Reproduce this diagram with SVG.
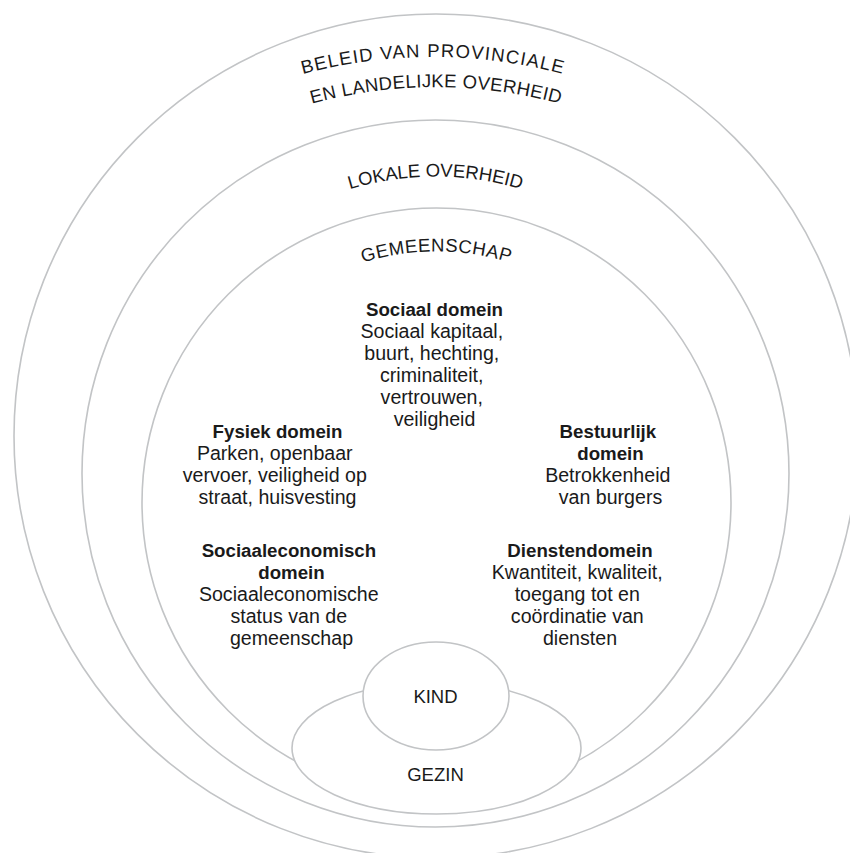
<svg xmlns="http://www.w3.org/2000/svg" width="850" height="853" viewBox="0 0 850 853">
  <style>
    .ring { fill: #ffffff; stroke: #c2c4c6; stroke-width: 1.6; }
    .arc-label { font-family: "Liberation Sans", Arial, sans-serif; font-size: 18.5px; fill: #1a1a1a; }
    .title { font-family: "Liberation Sans", Arial, sans-serif; font-size: 18.7px; font-weight: bold; fill: #1a1a1a; text-anchor: middle; }
    .body { font-family: "Liberation Sans", Arial, sans-serif; font-size: 19.6px; fill: #1a1a1a; text-anchor: middle; }
    .centre { font-family: "Liberation Sans", Arial, sans-serif; font-size: 18.5px; fill: #1a1a1a; text-anchor: middle; }
  </style>
  <defs>
    <path id="arcBeleid1" d="M -70 560 A 503 503 0 0 1 936 560" fill="none"/>
    <path id="arcBeleid2" d="M -37 560 A 473 473 0 0 1 909 560" fill="none"/>
    <path id="arcLokaal" d="M 138.5 473.5 A 297 297 0 0 1 732.5 473.5" fill="none"/>
    <path id="arcGemeenschap" d="M 185.5 502.5 A 251 251 0 0 1 687.5 502.5" fill="none"/>
  </defs>
  <rect width="850" height="853" fill="#ffffff"/>

  <g id="beleid">
    <circle class="ring" cx="436" cy="436" r="422"/>
    <text class="arc-label"><textPath href="#arcBeleid1" startOffset="50%" text-anchor="middle" letter-spacing="1.2">BELEID VAN PROVINCIALE</textPath><textPath href="#arcBeleid2" startOffset="50%" text-anchor="middle" letter-spacing="0.35">EN LANDELIJKE OVERHEID</textPath></text>
  </g>

  <g id="lokale-overheid">
    <circle class="ring" cx="435.5" cy="473.5" r="353.5"/>
    <text class="arc-label"><textPath href="#arcLokaal" startOffset="50%" text-anchor="middle">LOKALE OVERHEID</textPath></text>
  </g>

  <g id="gemeenschap">
    <circle class="ring" cx="436.5" cy="502.5" r="294.5"/>
    <text class="arc-label" letter-spacing="0.5"><textPath href="#arcGemeenschap" startOffset="50%" text-anchor="middle">GEMEENSCHAP</textPath></text>
  </g>

  <g id="sociaal-domein">
    <text class="title" x="434.5" y="316">Sociaal domein</text>
    <text class="body">
      <tspan x="434.5" y="338">Sociaal kapitaal,</tspan>
      <tspan x="434.5" y="360">buurt, hechting,</tspan>
      <tspan x="434.5" y="382">criminaliteit,</tspan>
      <tspan x="434.5" y="404">vertrouwen,</tspan>
      <tspan x="434.5" y="426">veiligheid</tspan>
    </text>
  </g>

  <g id="fysiek-domein">
    <text class="title" x="277.5" y="438">Fysiek domein</text>
    <text class="body">
      <tspan x="277.5" y="460">Parken, openbaar</tspan>
      <tspan x="277.5" y="482">vervoer, veiligheid op</tspan>
      <tspan x="277.5" y="504">straat, huisvesting</tspan>
    </text>
  </g>

  <g id="bestuurlijk-domein">
    <text class="title">
      <tspan x="610.5" y="438">Bestuurlijk</tspan>
      <tspan x="610.5" y="460">domein</tspan>
    </text>
    <text class="body">
      <tspan x="610.5" y="482">Betrokkenheid</tspan>
      <tspan x="610.5" y="504">van burgers</tspan>
    </text>
  </g>

  <g id="sociaaleconomisch-domein">
    <text class="title">
      <tspan x="291.5" y="557">Sociaaleconomisch</tspan>
      <tspan x="291.5" y="579">domein</tspan>
    </text>
    <text class="body">
      <tspan x="291.5" y="601">Sociaaleconomische</tspan>
      <tspan x="291.5" y="623">status van de</tspan>
      <tspan x="291.5" y="645">gemeenschap</tspan>
    </text>
  </g>

  <g id="dienstendomein">
    <text class="title" x="580" y="557">Dienstendomein</text>
    <text class="body">
      <tspan x="580" y="579">Kwantiteit, kwaliteit,</tspan>
      <tspan x="580" y="601">toegang tot en</tspan>
      <tspan x="580" y="623">coördinatie van</tspan>
      <tspan x="580" y="645">diensten</tspan>
    </text>
  </g>

  <g id="gezin">
    <ellipse class="ring" cx="436.5" cy="748" rx="144.5" ry="66"/>
    <text class="centre" x="435.5" y="781">GEZIN</text>
  </g>

  <g id="kind">
    <ellipse class="ring" cx="436" cy="696" rx="73" ry="54"/>
    <text class="centre" x="435.5" y="703">KIND</text>
  </g>
</svg>
